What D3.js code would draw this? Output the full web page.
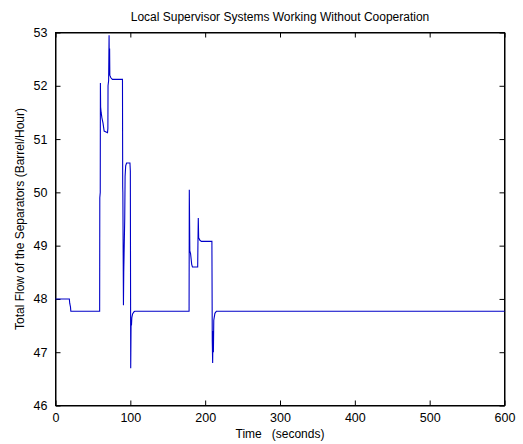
<!DOCTYPE html>
<html><head><meta charset="utf-8">
<script src="https://cdn.jsdelivr.net/npm/d3@7"></script>
<style>body{margin:0;background:#fff}svg{display:block}text{font-family:"Liberation Sans",Arial,sans-serif;fill:#000}</style>
</head><body><svg id="c" width="523" height="444"></svg>
<script>
const title = "Local Supervisor Systems Working Without Cooperation";
const xLabel = "Time   (seconds)";
const yLabel = "Total Flow of the Separators (Barrel/Hour)";
const xTicks = [0,100,200,300,400,500,600];
const yTicks = [46,47,48,49,50,51,52,53];
const times = [0,18.5,19,20,20.5,59,59.2,59.8,60,60.3,61,62,63.5,65,69.5,70,70.2,71,71.6,72,72.3,72.6,74,76,89.5,89.8,90.0,90.8,91.2,92.5,93,93.8,95,99.5,100,100.5,101,101.5,102,103,105,106,178.5,178.8,179.5,180.5,182,183,190,190.3,190.8,191.3,193,195,209,209.5,210,210.5,211,211.5,213,215,600];
const flows = [48.0,48.0,47.92,47.85,47.77,47.77,49.9,50.0,52.05,51.6,51.5,51.4,51.3,51.15,51.12,51.2,52.0,52.1,52.95,52.2,52.7,52.2,52.15,52.12,52.12,50.1,50.0,47.88,48.5,49.5,50.3,50.5,50.55,50.55,50.4,46.7,47.55,47.5,47.65,47.72,47.76,47.77,47.77,50.05,48.9,48.85,48.65,48.6,48.6,49.0,49.52,49.15,49.1,49.08,49.08,47.2,46.8,47.4,47.0,47.6,47.73,47.77,47.77];

const svg = d3.select("#c");
const L=55.5, R=504.5, T=32.5, B=405.5;
const x = d3.scaleLinear().domain([0,600]).range([L,R]);
const y = d3.scaleLinear().domain([46,53]).range([B,T]);

svg.append("rect").attr("x",L).attr("y",T).attr("width",R-L).attr("height",B-T).attr("fill","#fff").attr("stroke","#000").attr("stroke-width",1);

const gx = svg.append("g").attr("transform",`translate(0,${B})`)
  .call(d3.axisBottom(x).tickValues(xTicks).tickFormat(d3.format("d")).tickSizeInner(-5).tickSizeOuter(0).tickPadding(8));
const gxt = svg.append("g").attr("transform",`translate(0,${T})`)
  .call(d3.axisTop(x).tickValues(xTicks).tickSizeInner(-5).tickSizeOuter(0).tickFormat(""));
const gy = svg.append("g").attr("transform",`translate(${L},0)`)
  .call(d3.axisLeft(y).tickValues(yTicks).tickFormat(d3.format("d")).tickSizeInner(-5).tickSizeOuter(0).tickPadding(8));
const gyr = svg.append("g").attr("transform",`translate(${R},0)`)
  .call(d3.axisRight(y).tickValues(yTicks).tickSizeInner(-5).tickSizeOuter(0).tickFormat(""));
[gx,gxt,gy,gyr].forEach(g=>{g.select(".domain").attr("stroke","#000");g.selectAll("line").attr("stroke","#000");g.selectAll("text").attr("font-size",12.5).attr("font-family","Liberation Sans, Arial, sans-serif").attr("fill","#000");});

const pts = times.map((t,i)=>[t,flows[i]]);
svg.append("path").datum(pts).attr("fill","none").attr("stroke","#0000c8").attr("stroke-width",1.1)
  .attr("d", d3.line().x(d=>x(d[0])).y(d=>y(d[1])));

svg.append("text").attr("x",(L+R)/2).attr("y",21).attr("text-anchor","middle").attr("font-size",12).text(title);
svg.append("text").attr("x",(L+R)/2).attr("y",438).attr("text-anchor","middle").attr("font-size",12).attr("xml:space","preserve").style("white-space","pre").text(xLabel);
svg.append("text").attr("transform",`translate(24,${(T+B)/2}) rotate(-90)`).attr("text-anchor","middle").attr("font-size",12).text(yLabel);
</script></body></html>
